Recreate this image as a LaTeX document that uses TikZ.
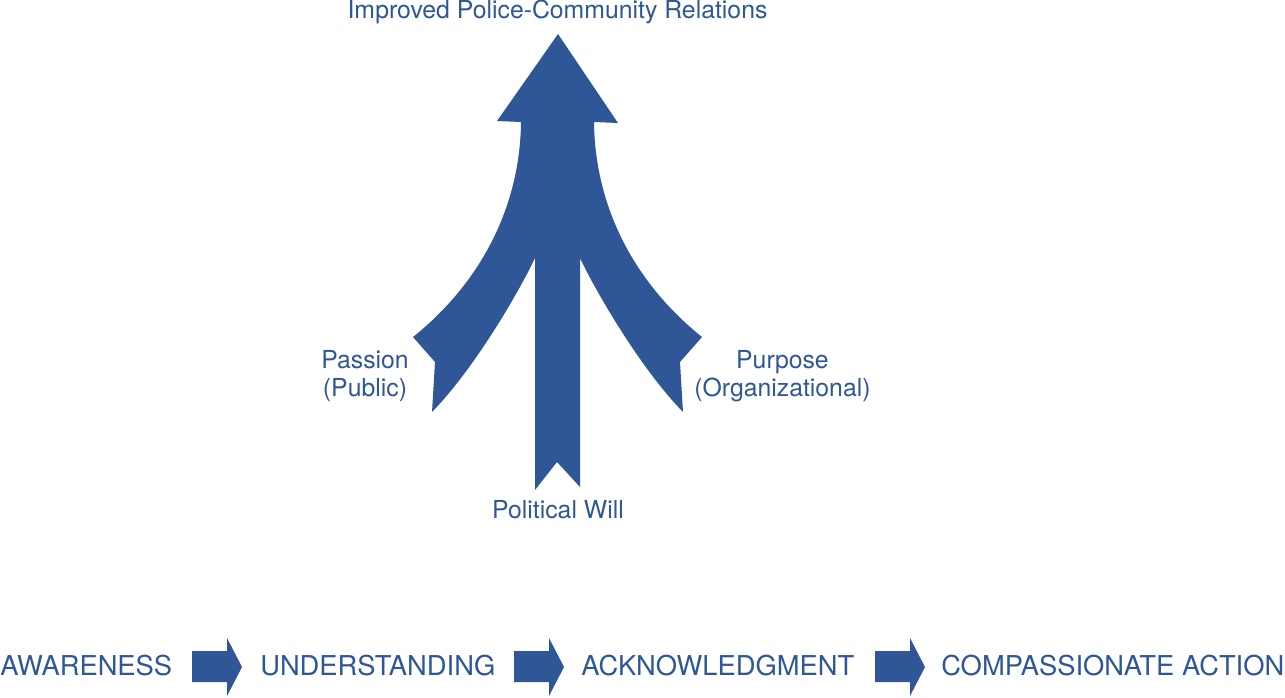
\documentclass[tikz,border=0pt]{standalone}
\usepackage{fontspec}
\setmainfont{TeX Gyre Heros}
\usetikzlibrary{positioning}
\definecolor{policeblue}{RGB}{47,87,151}

\begin{document}
\begin{tikzpicture}[x=0.75pt, y=-0.75pt,
        branchlabel/.style={text=policeblue, inner sep=0pt, align=center, font=\fontsize{18.6}{21}\selectfont},
        steplabel/.style={text=policeblue, inner sep=0pt, anchor=base west, font=\fontsize{20.5}{24}\selectfont},
        steparrow/.style={fill=policeblue}]
        \useasboundingbox (0,0) rectangle (1285,697);

        % Draw the merging arrow
        \fill[policeblue] (558,34) -- (618,123) -- (594,122)
            .. controls (595,210) and (637,285) .. (702,337) -- (680,362) -- (683,412)
            .. controls (640,368) and (595,290) .. (580,258) -- (580,487) -- (557,462) -- (535,490) -- (535,258)
            .. controls (520,290) and (475,368) .. (432,412) -- (435,362) -- (413,337)
            .. controls (478,285) and (520,210) .. (521,122) -- (497,121) -- cycle;

        % Labels of the merging arrow
        \node[branchlabel, anchor=base] (relations) at (557.5,18) {Improved Police-Community Relations};
        \node[branchlabel] (passion) at (365,376) {Passion\\(Public)};
        \node[branchlabel] (purpose) at (782.5,376) {Purpose\\(Organizational)};
        \node[branchlabel, anchor=base] (will) at (558,518) {Political Will};

        % Steps along the bottom
        \node[steplabel] (awareness) at (0,675) {AWARENESS};
        \node[steplabel] (understanding) at (260,675) {UNDERSTANDING};
        \node[steplabel] (acknowledgment) at (581,675) {ACKNOWLEDGMENT};
        \node[steplabel] (compassion) at (941,675) {COMPASSIONATE ACTION};

        % Draw the arrows between the steps
        \fill[steparrow] (192,651) -- (227,651) -- (227,638) -- (242,667) -- (227,696) -- (227,682) -- (192,682) -- cycle;
        \fill[steparrow] (514,651) -- (549,651) -- (549,638) -- (564,667) -- (549,696) -- (549,682) -- (514,682) -- cycle;
        \fill[steparrow] (875,651) -- (910,651) -- (910,638) -- (925,667) -- (910,696) -- (910,682) -- (875,682) -- cycle;

\end{tikzpicture}
\end{document}
